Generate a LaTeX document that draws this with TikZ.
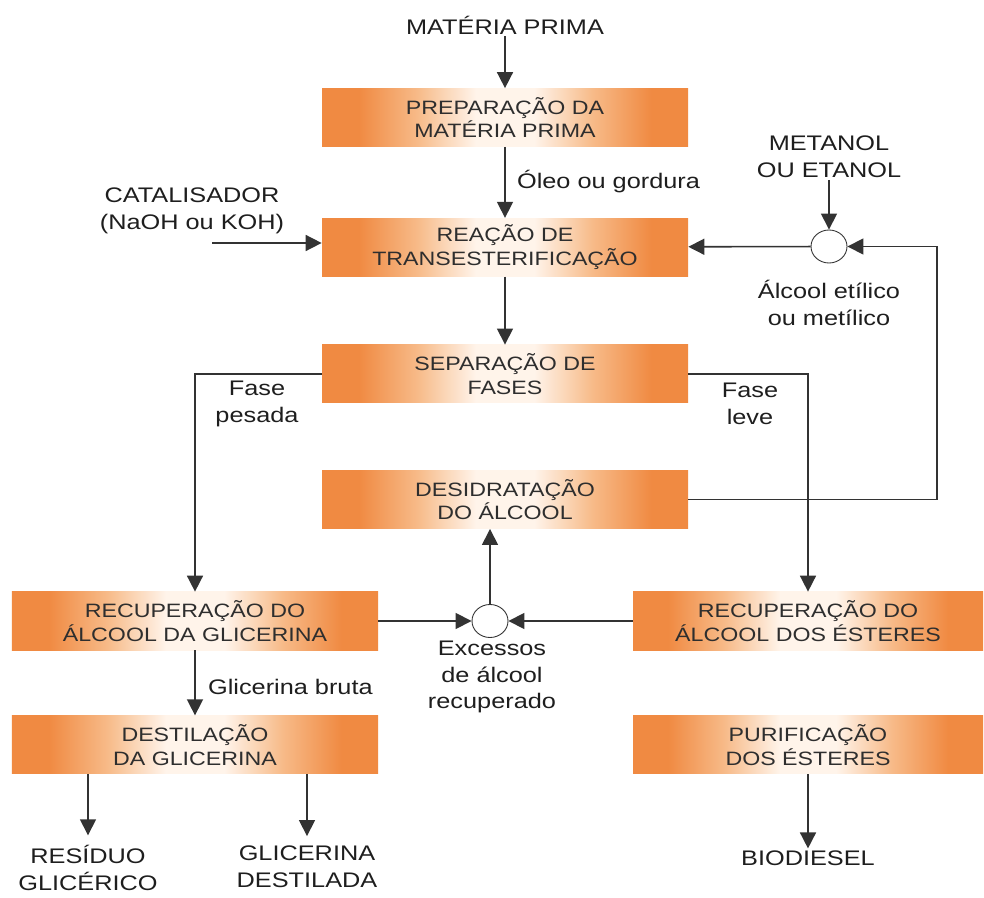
\documentclass[tikz,border=0pt]{standalone}
\usepackage{fontspec}
\setmainfont{Liberation Sans}[FakeStretch=1.2]
\usepackage{tikz}
\usetikzlibrary{arrows.meta,positioning,shapes.geometric}
\usepackage{xcolor}
\definecolor{boxorange}{HTML}{F08A42}
\definecolor{boxmid}{HTML}{F7BA88}
\definecolor{boxlight}{HTML}{FFF4EA}
\definecolor{boxtext}{HTML}{2E2E2E}
\definecolor{labeltext}{HTML}{1E1E1E}
\definecolor{linegray}{HTML}{333333}
\pgfdeclarehorizontalshading{boxglow}{100bp}{color(0bp)=(boxorange); color(25bp)=(boxorange); color(30bp)=(boxorange); color(38bp)=(boxmid); color(46bp)=(boxlight); color(54bp)=(boxlight); color(62bp)=(boxmid); color(70bp)=(boxorange); color(75bp)=(boxorange); color(100bp)=(boxorange)}

\begin{document}
\begin{tikzpicture}[
  x=0.2mm,y=-0.2mm,
  node distance=13.5mm,
  box/.style={shading=boxglow,minimum width=73.2mm,minimum height=11.6mm,inner sep=0pt,align=center,text=boxtext,font=\fontsize{11}{13.6}\selectfont},
  lbl/.style={align=center,text=labeltext,inner sep=1pt,font=\fontsize{12}{15.2}\selectfont},
  junc/.style={ellipse,draw=linegray,line width=0.5pt,fill=white,minimum width=7.2mm,minimum height=6.6mm,inner sep=0pt},
  arr/.style={-{Triangle[length=3.2mm,width=3.2mm]},line width=0.9pt,draw=linegray}
]
\useasboundingbox (0,0) rectangle (984,898);
\node[lbl] (mp) at (505,25) {MATÉRIA PRIMA};
\node[box] (prep) at (505,117.5) {PREPARAÇÃO DA\\MATÉRIA PRIMA};
\node[box,below=14.2mm of prep] (reac) {REAÇÃO DE\\TRANSESTERIFICAÇÃO};
\node[box,below=13.6mm of reac] (sep) {SEPARAÇÃO DE\\FASES};
\node[box,below=13.4mm of sep] (desid) {DESIDRATAÇÃO\\DO ÁLCOOL};
\node[box] (rga) at (195,621) {RECUPERAÇÃO DO\\ÁLCOOL DA GLICERINA};
\node[box,below=13mm of rga] (destil) {DESTILAÇÃO\\DA GLICERINA};
\node[box,minimum width=70mm] (rae) at (808,621) {RECUPERAÇÃO DO\\ÁLCOOL DOS ÉSTERES};
\node[box,minimum width=70mm,below=13mm of rae] (purif) {PURIFICAÇÃO\\DOS ÉSTERES};
\node[junc] (c1) at (829,246.5) {};
\node[junc] (c2) at (490,621) {};
\node[lbl] (cat) at (192,211) {CATALISADOR\\(NaOH ou KOH)};
\node[lbl] (met) at (829,157) {METANOL\\OU ETANOL};
\node[lbl] (alc) at (829,303) {Álcool etílico\\ou metílico};
\node[lbl,anchor=west] (oleo) at (515,182) {Óleo ou gordura};
\node[lbl] (pesada) at (257,404) {Fase\\pesada};
\node[lbl] (leve) at (750,404) {Fase\\leve};
\node[lbl] (exc) at (492,677) {Excessos\\de álcool\\recuperado};
\node[lbl,anchor=west] (bruta) at (206,687) {Glicerina bruta};
\node[lbl] (res) at (88,868) {RESÍDUO\\GLICÉRICO};
\node[lbl] (glid) at (307,867) {GLICERINA\\DESTILADA};
\node[lbl] (bio) at (808,858) {BIODIESEL};
\coordinate (catin) at (212,243);
\coordinate (loopr) at (937,246.5);
\draw[arr] (mp) -- (prep);
\draw[arr] (prep) -- (reac);
\draw[arr] (catin) -- (catin -| reac.west);
\draw[arr] (met) -- (c1);
\draw[arr] (c1) -- (reac);
\draw[arr] (desid.east) -| (loopr) -- (c1);
\draw[arr] (reac) -- (sep);
\draw[arr] (sep.west) -| (rga.north);
\draw[arr] (sep.east) -| (rae.north);
\draw[arr] (rga) -- (c2);
\draw[arr] (rae) -- (c2);
\draw[arr] (c2) -- (c2 |- desid.south);
\draw[arr] (rga) -- (destil);
\draw[arr] (res.north |- destil.south) -- ([yshift=1.6mm]res.north);
\draw[arr] (glid.north |- destil.south) -- ([yshift=1.6mm]glid.north);
\draw[arr] (purif) -- (bio);
\end{tikzpicture}
\end{document}
